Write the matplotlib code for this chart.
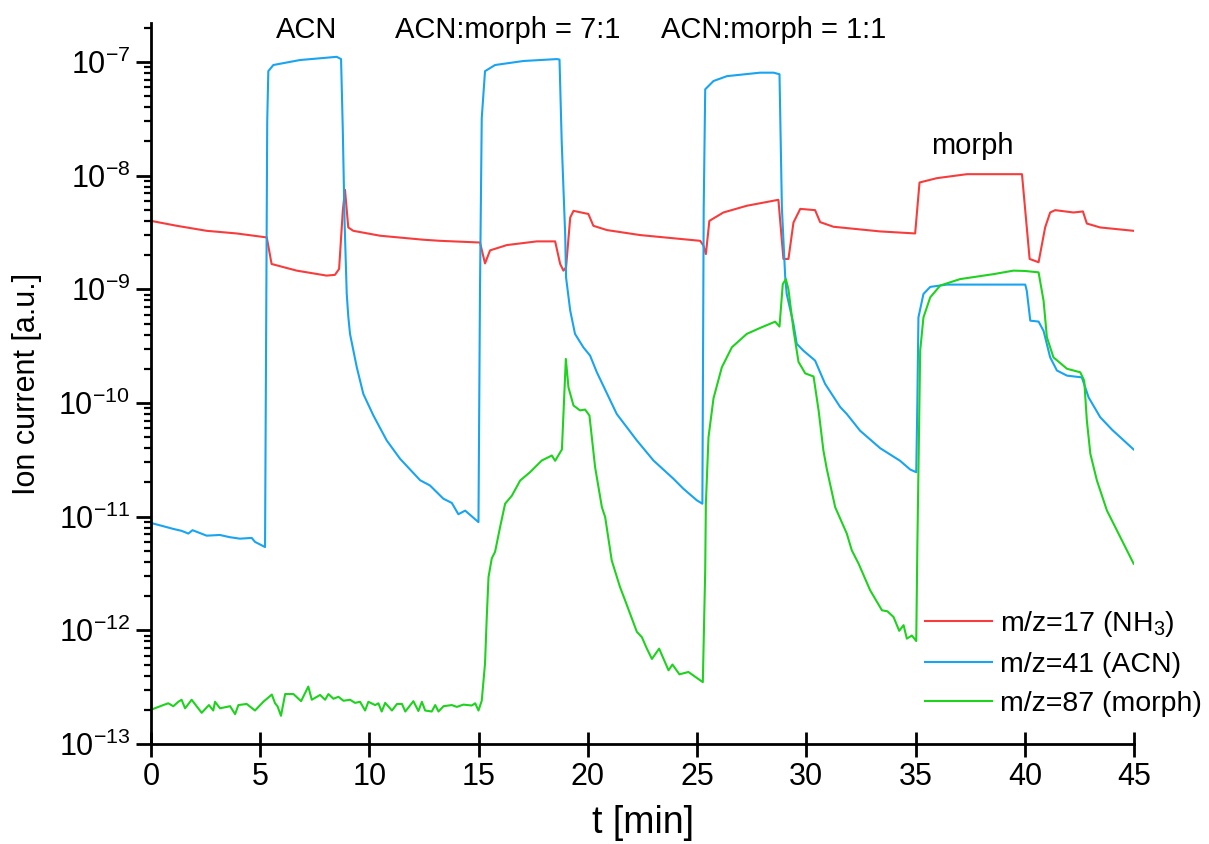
import matplotlib
matplotlib.use("Agg")
import matplotlib.pyplot as plt
from matplotlib.ticker import LogLocator, NullFormatter

plt.rcParams['font.family'] = ['Liberation Sans', 'DejaVu Sans']
plt.rcParams['mathtext.fontset'] = 'custom'
plt.rcParams['mathtext.rm'] = 'Liberation Sans'
plt.rcParams['mathtext.it'] = 'Liberation Sans:italic'
plt.rcParams['mathtext.default'] = 'regular'

# m/z = 17 (NH3)
nh3_t = [0, 1.18, 2.55, 3.92, 5.3, 5.52, 6.67, 8.04, 8.42, 8.61, 8.78, 8.88, 9.03, 9.26,
         10.49, 12.47, 13.23, 15.06, 15.29, 15.52, 16.29, 17.66, 18.5, 18.73, 18.88, 19.0,
         19.19, 19.34, 20.02, 20.25, 20.87, 22.39, 25.14, 25.29, 25.4, 25.56, 26.2, 27.27,
         28.72, 28.95, 29.18, 29.41, 29.72, 30.4, 30.63, 31.24, 33.38, 34.98, 35.18, 35.97,
         37.35, 39.87, 40.22, 40.63, 40.93, 41.16, 41.39, 42.23, 42.66, 42.84, 43.45, 44.98]
nh3_i = [4.0e-9, 3.62e-9, 3.27e-9, 3.1e-9, 2.86e-9, 1.67e-9, 1.46e-9, 1.32e-9, 1.34e-9, 1.51e-9,
         4.9e-9, 7.5e-9, 3.5e-9, 3.27e-9, 2.96e-9, 2.73e-9, 2.67e-9, 2.58e-9, 1.69e-9, 2.2e-9,
         2.45e-9, 2.64e-9, 2.64e-9, 1.67e-9, 1.46e-9, 1.56e-9, 4.28e-9, 4.9e-9, 4.6e-9, 3.62e-9,
         3.32e-9, 3.0e-9, 2.67e-9, 2.42e-9, 2.04e-9, 4.0e-9, 4.74e-9, 5.43e-9, 6.13e-9, 1.85e-9,
         1.85e-9, 3.87e-9, 5.1e-9, 4.97e-9, 3.9e-9, 3.55e-9, 3.23e-9, 3.1e-9, 8.7e-9, 9.5e-9,
         1.03e-8, 1.03e-8, 1.85e-9, 1.73e-9, 3.5e-9, 4.74e-9, 4.97e-9, 4.74e-9, 4.84e-9, 3.79e-9,
         3.5e-9, 3.27e-9]

# m/z = 41 (ACN)
acn_t = [0, 0.5, 1.02, 1.4, 1.71, 1.9, 2.55, 3.15, 3.6, 4.07, 4.61, 4.76, 5.22, 5.32, 5.37,
         5.6, 6.82, 8.04, 8.5, 8.7, 8.78, 8.86, 8.96, 9.03, 9.11, 9.42, 9.72, 10.18, 10.79,
         11.4, 12.32, 12.77, 13.38, 13.77, 14.07, 14.38, 14.99, 15.06, 15.14, 15.29, 15.75,
         17.05, 18.58, 18.7, 18.8, 18.96, 19.0, 19.19, 19.41, 19.79, 20.1, 20.41, 21.32, 22.24,
         23.0, 23.92, 24.37, 24.99, 25.24, 25.3, 25.37, 25.75, 26.36, 27.88, 28.5, 28.77, 28.88,
         29.03, 29.1, 29.41, 29.56, 29.87, 30.4, 30.86, 31.55, 31.85, 32.46, 33.38, 34.29,
         34.75, 35.03, 35.08, 35.13, 35.36, 35.67, 36.43, 37.96, 40.02, 40.09, 40.25, 40.63,
         40.86, 41.16, 41.47, 41.93, 42.61, 42.92, 43.45, 44.0, 44.52, 44.98]
acn_i = [8.8e-12, 8.3e-12, 7.8e-12, 7.5e-12, 7.1e-12, 7.6e-12, 6.8e-12, 6.9e-12, 6.6e-12,
         6.4e-12, 6.5e-12, 6.0e-12, 5.4e-12, 3.0e-8, 8.3e-8, 9.4e-8, 1.04e-7, 1.09e-7, 1.11e-7,
         1.06e-7, 2.5e-8, 4.0e-9, 9.1e-10, 5.8e-10, 4.05e-10, 2.06e-10, 1.2e-10, 7.76e-11,
         4.68e-11, 3.23e-11, 2.09e-11, 1.88e-11, 1.44e-11, 1.32e-11, 1.05e-11, 1.13e-11,
         8.95e-12, 1.0e-9, 3.2e-8, 8.3e-8, 9.4e-8, 1.02e-7, 1.06e-7, 1.05e-7, 2.0e-8, 3.0e-9,
         1.27e-9, 6.5e-10, 4.05e-10, 3.09e-10, 2.61e-10, 1.86e-10, 8.0e-11, 4.68e-11, 3.12e-11,
         2.15e-11, 1.76e-11, 1.39e-11, 1.3e-11, 5.0e-9, 5.75e-8, 6.8e-8, 7.5e-8, 8.05e-8,
         8.05e-8, 7.8e-8, 5.2e-9, 1.3e-9, 9.1e-10, 4.95e-10, 3.31e-10, 2.88e-10, 2.36e-10,
         1.47e-10, 9.2e-11, 8.0e-11, 5.7e-11, 4.0e-11, 3.1e-11, 2.6e-11, 2.46e-11, 1.0e-10,
         5.66e-10, 9.1e-10, 1.05e-9, 1.1e-9, 1.1e-9, 1.1e-9, 9.7e-10, 5.3e-10, 5.2e-10, 4.3e-10,
         2.52e-10, 1.93e-10, 1.74e-10, 1.68e-10, 1.12e-10, 7.5e-11, 5.8e-11, 4.7e-11, 3.9e-11]

# m/z = 87 (morpholine)
morph_t = [0, 0.56, 0.79, 1.02, 1.25, 1.4, 1.56, 1.86, 2.32, 2.65, 2.85, 2.93, 3.16, 3.62,
           3.85, 4.0, 4.38, 4.76, 5.14, 5.53, 5.68, 5.79, 5.95, 6.14, 6.52, 6.87, 7.2, 7.36,
           7.74, 7.97, 8.12, 8.35, 8.58, 8.81, 9.11, 9.34, 9.57, 9.8, 9.95, 10.26, 10.41,
           10.56, 10.72, 11.03, 11.26, 11.49, 11.64, 12.01, 12.24, 12.4, 12.55, 12.85, 13.01,
           13.16, 13.39, 13.77, 14.0, 14.3, 14.68, 14.84, 14.99, 15.14, 15.29, 15.37, 15.45,
           15.6, 15.75, 15.98, 16.21, 16.52, 16.9, 17.35, 17.89, 18.35, 18.5, 18.81, 18.99,
           19.11, 19.34, 19.64, 19.87, 20.07, 20.33, 20.64, 20.79, 21.09, 21.47, 21.7, 22.01,
           22.24, 22.47, 22.7, 22.93, 23.26, 23.69, 23.87, 24.19, 24.6, 25.26, 25.37, 25.4,
           25.52, 25.75, 26.13, 26.59, 27.27, 27.88, 28.57, 28.77, 28.92, 29.06, 29.18, 29.41,
           29.64, 29.95, 30.33, 30.56, 30.78, 30.94, 31.32, 31.85, 32.08, 32.39, 32.92, 33.46,
           33.71, 33.99, 34.25, 34.45, 34.6, 34.83, 35.03, 35.08, 35.21, 35.36, 35.67, 36.13,
           37.04, 38.57, 39.48, 40.0, 40.63, 40.86, 41.01, 41.31, 41.93, 42.54, 42.72, 42.84,
           43.0, 43.3, 43.76, 44.37, 44.98]
morph_i = [2.0e-13, 2.2e-13, 2.28e-13, 2.15e-13, 2.35e-13, 2.45e-13, 2.06e-13, 2.45e-13,
           1.88e-13, 2.2e-13, 1.97e-13, 2.35e-13, 2.06e-13, 2.15e-13, 1.83e-13, 2.2e-13,
           2.25e-13, 1.97e-13, 2.35e-13, 2.72e-13, 2.28e-13, 2.15e-13, 1.77e-13, 2.75e-13,
           2.75e-13, 2.38e-13, 3.2e-13, 2.45e-13, 2.7e-13, 2.45e-13, 2.75e-13, 2.5e-13,
           2.6e-13, 2.4e-13, 2.45e-13, 2.3e-13, 2.35e-13, 1.97e-13, 2.35e-13, 2.2e-13, 2.28e-13,
           1.93e-13, 2.3e-13, 1.97e-13, 2.25e-13, 2.25e-13, 1.93e-13, 2.38e-13, 1.95e-13,
           2.35e-13, 1.97e-13, 1.93e-13, 2.2e-13, 1.93e-13, 2.15e-13, 2.2e-13, 2.12e-13,
           2.22e-13, 2.18e-13, 2.28e-13, 1.97e-13, 2.4e-13, 5.1e-13, 1.31e-12, 2.94e-12,
           4.3e-12, 4.9e-12, 8.1e-12, 1.3e-11, 1.53e-11, 2.08e-11, 2.46e-11, 3.12e-11, 3.45e-11,
           3.1e-11, 3.9e-11, 2.44e-10, 1.37e-10, 9.5e-11, 8.6e-11, 8.75e-11, 7.76e-11, 2.72e-11,
           1.21e-11, 9.9e-12, 4.12e-12, 2.4e-12, 1.84e-12, 1.27e-12, 9.7e-13, 8.7e-13, 6.9e-13,
           5.6e-13, 6.9e-13, 4.45e-13, 5.0e-13, 4.1e-13, 4.3e-13, 3.5e-13, 3.4e-12, 1.3e-11,
           5.0e-11, 1.1e-10, 2.06e-10, 3.09e-10, 4.05e-10, 4.57e-10, 5.19e-10, 4.7e-10, 1.11e-9,
           1.23e-9, 1.0e-9, 4.4e-10, 2.3e-10, 1.82e-10, 1.71e-10, 8.6e-11, 3.82e-11, 2.6e-11,
           1.21e-11, 7.1e-12, 5.05e-12, 3.86e-12, 2.25e-12, 1.5e-12, 1.47e-12, 1.31e-12,
           9.9e-13, 1.11e-12, 8.45e-13, 9.0e-13, 8.05e-13, 5.4e-12, 2.88e-10, 5.66e-10, 8.5e-10,
           1.08e-9, 1.23e-9, 1.36e-9, 1.46e-9, 1.45e-9, 1.41e-9, 7.9e-10, 3.79e-10, 2.52e-10,
           2.0e-10, 1.86e-10, 1.57e-10, 7.0e-11, 3.57e-11, 2.08e-11, 1.13e-11, 6.6e-12, 3.86e-12]

y_ticks = [1e-13, 1e-12, 1e-11, 1e-10, 1e-9, 1e-8, 1e-7]

phase_labels = ["ACN", "ACN:morph = 7:1", "ACN:morph = 1:1", "morph"]
phase_x = [7.14, 16.35, 28.5, 37.6]
phase_y = [1.9e-7, 1.9e-7, 1.9e-7, 1.83e-8]

fig = plt.figure(figsize=(12.09, 8.44), dpi=100)
ax = fig.add_axes([0.1249, 0.1185, 0.8131, 0.8542])

ax.plot(nh3_t, nh3_i, color='#f83c3c', lw=1.5, label='m/z=17 (NH$_3$)')
ax.plot(acn_t, acn_i, color='#18a4f0', lw=1.5, label='m/z=41 (ACN)')
ax.plot(morph_t, morph_i, color='#1ed21e', lw=1.5, label='m/z=87 (morph)')

ax.set_yscale('log')
ax.set_xlim(0, 45)
ax.set_ylim(1e-13, 2.2e-7)
ax.set_xticks(range(0, 46, 5))
ax.set_yticks(y_ticks)
ax.yaxis.set_minor_locator(LogLocator(base=10, subs=range(2, 10), numticks=20))
ax.yaxis.set_minor_formatter(NullFormatter())

for side in ['top', 'right']:
    ax.spines[side].set_visible(False)
for side in ['left', 'bottom']:
    ax.spines[side].set_linewidth(2)

ax.tick_params(axis='x', which='major', direction='inout', length=18, width=2,
               labelsize=22, pad=4)
ax.tick_params(axis='y', which='major', direction='out', length=11, width=2,
               labelsize=22, pad=4)
ax.tick_params(axis='y', which='minor', direction='out', length=5, width=1.6)

ax.set_xlabel('t [min]', fontsize=27, labelpad=9)
ax.set_ylabel('Ion current [a.u.]', fontsize=22, labelpad=12)

for lab, x, y in zip(phase_labels, phase_x, phase_y):
    ax.text(x, y, lab, ha='center', va='center', fontsize=21, clip_on=False)

ax.legend(loc='upper left', bbox_to_anchor=(925 / 1209, 1 - 609 / 844),
          bbox_transform=fig.transFigure, frameon=False, fontsize=20.5,
          handlelength=2.35, handletextpad=0.3, borderpad=0, borderaxespad=0,
          labelspacing=0.45)

fig.savefig('out.png', dpi=100)
